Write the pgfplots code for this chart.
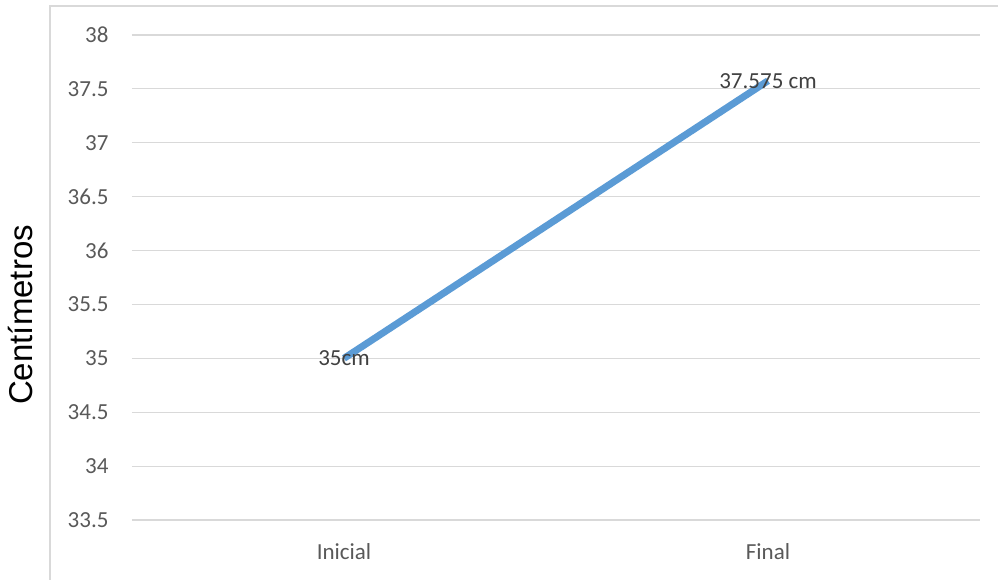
\documentclass[border=0pt]{standalone}
\usepackage{fontspec}
\setmainfont{Carlito}
\newfontfamily\arialfont{Liberation Sans}
\usepackage{pgfplots}
\pgfplotsset{compat=1.18}
\definecolor{lineblue}{HTML}{5B9BD5}
\definecolor{gridgray}{HTML}{D9D9D9}
\definecolor{ticktext}{HTML}{595959}
\definecolor{labeltext}{HTML}{404040}
\begin{document}
\begin{tikzpicture}
\path[use as bounding box] (-132pt,-60pt) rectangle (866pt,520pt);
\draw[gridgray,line width=1.2pt] (-82pt,-62pt) -- (-82pt,514pt) -- (868pt,514pt);
\begin{axis}[
  scale only axis,
  width=848pt, height=485pt,
  xmin=-0.5, xmax=1.5,
  ymin=33.5, ymax=38,
  ytick={33.5,34,...,38},
  xtick=data,
  xticklabels={Inicial,Final},
  axis line style={draw=none},
  major tick length=0pt,
  ymajorgrids,
  grid style={gridgray,line width=1.2pt},
  /pgf/number format/assume math mode=true,
  /pgf/number format/1000 sep={},
  yticklabel style={font=\fontsize{23}{27}\selectfont,text=ticktext,xshift=-20pt},
  xticklabel style={font=\fontsize{23}{27}\selectfont,text=ticktext,yshift=-20pt},
  ylabel={\arialfont Centímetros},
  ylabel style={font=\fontsize{33}{38}\selectfont,at={(axis description cs:-0.1309,0.4227)},anchor=center,rotate=0},
  clip=false,
]
\addplot[lineblue,line width=7pt,
  nodes near coords,
  point meta=explicit symbolic,
  every node near coord/.append style={anchor=center,font=\fontsize{23}{27}\selectfont,text=labeltext,inner sep=0pt}]
  coordinates {(0,35) [35cm] (1,37.575) [37.575 cm]};
\end{axis}
\end{tikzpicture}
\end{document}
